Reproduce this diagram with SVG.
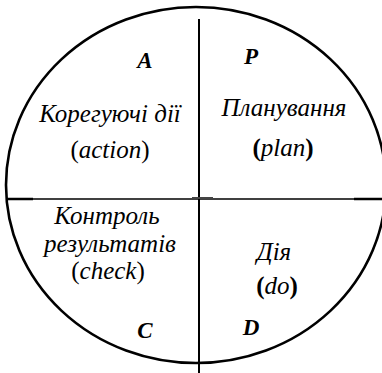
<svg xmlns="http://www.w3.org/2000/svg" width="382" height="373" viewBox="0 0 382 373">
<style>
text{font-family:'Liberation Serif','Times New Roman',serif;font-size:25px;fill:#000;text-anchor:middle}
.i{font-style:italic}
.b{font-weight:bold;font-style:italic;font-size:23px}
.pb{font-weight:bold;font-style:normal}
.pn{font-style:normal}
.ln{stroke:#000;fill:none}
</style>
<rect width="382" height="373" fill="#fff"/>
<g id="axes">
<ellipse class="ln" cx="196" cy="185" rx="190" ry="178" stroke-width="2.6"/>
<line class="ln" x1="199" y1="19" x2="199" y2="373" stroke-width="2"/>
<line class="ln" x1="6" y1="199" x2="382" y2="199" stroke-width="1.5"/>
<line class="ln" x1="6" y1="199" x2="33" y2="199" stroke-width="2.5"/>
<line class="ln" x1="354" y1="199" x2="382" y2="199" stroke-width="2.5"/>
<line x1="192" y1="198" x2="213" y2="198" stroke="#444" stroke-width="2"/>
</g>
<g id="action">
<text class="b" x="145" y="68">A</text>
<text class="i" x="110" y="122">Корегуючі дії</text>
<text x="110" y="158"><tspan class="pn">(</tspan><tspan class="i">action</tspan><tspan class="pn">)</tspan></text>
</g>
<g id="plan">
<text class="b" x="251" y="64">P</text>
<text class="i" x="284" y="116">Планування</text>
<text x="283" y="156"><tspan class="pb">(</tspan><tspan class="i">plan</tspan><tspan class="pb">)</tspan></text>
</g>
<g id="check">
<text class="i" x="107" y="224">Контроль</text>
<text class="i" x="110" y="252">результатів</text>
<text x="108" y="279"><tspan class="pn">(</tspan><tspan class="i">check</tspan><tspan class="pn">)</tspan></text>
<text class="b" x="145" y="338">C</text>
</g>
<g id="do">
<text class="i" x="274" y="260">Дія</text>
<text x="277" y="294"><tspan class="pb">(</tspan><tspan class="i">do</tspan><tspan class="pb">)</tspan></text>
<text class="b" x="251" y="335">D</text>
</g>
</svg>
